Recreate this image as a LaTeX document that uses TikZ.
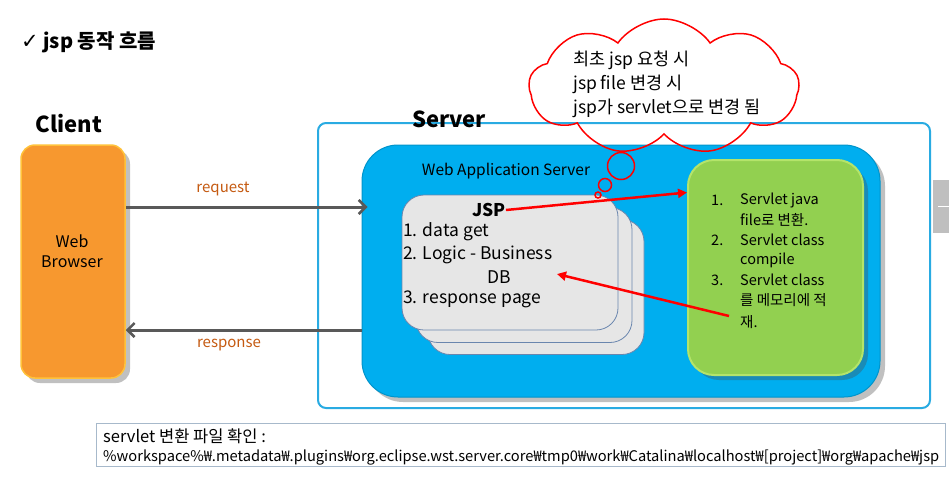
\documentclass[tikz,border=0pt]{standalone}
\usepackage{fontspec}
\setmainfont{Noto Sans CJK KR}
\newfontfamily\symfont{DejaVu Sans}
\usetikzlibrary{shapes.symbols,shadows,arrows.meta,calc}
\definecolor{orangebox}{HTML}{F7982F}
\definecolor{orangeedge}{HTML}{FFC23A}
\definecolor{wasblue}{HTML}{00AEEF}
\definecolor{srvline}{HTML}{29ABE2}
\definecolor{greenbox}{HTML}{92D050}
\definecolor{greenedge}{HTML}{B4E46A}
\definecolor{arrowgrey}{HTML}{595959}
\definecolor{labelbrown}{HTML}{C55A11}
\definecolor{jspfill}{HTML}{E6E6E6}
\definecolor{jspline}{HTML}{6A86AE}
\definecolor{tabgrey}{HTML}{BFBFBF}
\definecolor{pathbox}{HTML}{A7B9CB}
\tikzset{
  boxshadow/.style={drop shadow={shadow xshift=5pt,shadow yshift=-5pt,opacity=0.35,fill=black!70}},
  browserbox/.style={rectangle,rounded corners=14pt,fill=orangebox,draw=orangeedge,line width=1.5pt,boxshadow,minimum width=104pt,minimum height=233pt},
  wasbox/.style={rectangle,rounded corners=36pt,fill=wasblue,draw=wasblue!85!black,line width=1pt,boxshadow,minimum width=518pt,minimum height=252pt},
  greenboxst/.style={rectangle,rounded corners=26pt,fill=greenbox,draw=greenedge,line width=2pt,boxshadow,minimum width=175pt,minimum height=215pt},
  jspbox/.style={rectangle,rounded corners=22pt,fill=jspfill,draw=jspline,line width=0.8pt,minimum width=216pt,minimum height=135pt},
  flowarrow/.style={draw=arrowgrey,line width=3pt,-{Straight Barb[length=7pt,width=14pt,line width=2.5pt]}},
  redarrow/.style={draw=red,line width=2.5pt,-{Triangle[length=9pt,width=9pt]}},
  flowlabel/.style={text=labelbrown,font=\fontsize{15}{17}\selectfont},
  jsptext/.style={anchor=west,font=\fontsize{17.5}{20}\selectfont,inner sep=0pt},
  greentext/.style={anchor=west,font=\fontsize{14.5}{16}\selectfont,inner sep=0pt},
  bubble/.style={circle,draw=red,line width=1.5pt,inner sep=0pt},
}
\begin{document}
\begin{tikzpicture}[x=1pt,y=-1pt]
\useasboundingbox[fill=white] (0,0) rectangle (949,479);

% title
\node[anchor=west,inner sep=0pt,font=\bfseries\fontsize{20}{22}\selectfont] (title) at (21,42) {{\symfont\fontsize{21}{22}\selectfont ✓}\ jsp 동작 흐름};

% client
\node[font=\bfseries\fontsize{22}{26}\selectfont,inner sep=0pt] (clientlbl) at (69,124) {Client};
\node[browserbox] (browser) at (73,261.5) {};
\node[align=center,font=\fontsize{16}{19.5}\selectfont] (browsertxt) at (72,251) {Web\\Browser};

% server outer
\node[rectangle,draw=srvline,line width=2pt,rounded corners=8pt,minimum width=612pt,minimum height=285pt,fill=white] (server) at (624,265.5) {};
\node[font=\bfseries\fontsize{22}{26}\selectfont,inner sep=0pt] (serverlbl) at (449,119) {Server};

% WAS
\node[wasbox] (was) at (621,271) {};
\node[font=\fontsize{15.5}{18}\selectfont,inner sep=0pt] (waslbl) at (506,171) {Web Application Server};

% JSP stack
\node[jspbox] (jsp3) at (536,287) {};
\node[jspbox] (jsp2) at (524,275) {};
\node[jspbox] (jsp1) at (510,262.5) {};
\node[font=\bfseries\fontsize{17.5}{20}\selectfont,inner sep=0pt] (jsp) at (489,210) {JSP};
\node[jsptext] (l1) at (403,232) {1. data get};
\node[jsptext] (l2) at (403,255) {2. Logic - Business};
\node[font=\fontsize{17.5}{20}\selectfont,inner sep=0pt] (db) at (499,277) {DB};
\node[jsptext] (l3) at (403,299) {3. response page};

% green box
\node[greenboxst] (green) at (775.5,267.5) {};
\node[greentext] (n1) at (711,200) {1.};
\node[greentext] (g1) at (740,200) {Servlet java};
\node[greentext] (g2) at (740,220) {file로 변환.};
\node[greentext] (n2) at (711,240) {2.};
\node[greentext] (g3) at (740,240) {Servlet class};
\node[greentext] (g4) at (740,260) {compile};
\node[greentext] (n3) at (711,280) {3.};
\node[greentext] (g5) at (740,280) {Servlet class};
\node[greentext] (g6) at (740,300) {를 메모리에 적};
\node[greentext] (g7) at (740,322) {재.};

% cloud
\node[cloud,cloud puffs=9,cloud puff arc=110,aspect=2,draw=red,line width=1.5pt,minimum width=270pt,minimum height=136pt] (cloud) at (664,87) {};
\node[align=left,font=\fontsize{17.5}{24}\selectfont,inner sep=0pt] (cloudtxt) at (667,84) {최초 jsp 요청 시\\jsp file 변경 시\\jsp가 servlet으로 변경 됨};
\node[bubble,minimum size=27pt] (b1) at (621,166) {};
\node[bubble,minimum size=13pt] (b2) at (605,185) {};
\node[bubble,minimum size=6pt] (b3) at (598,195) {};

% red arrows
\coordinate (dbt) at (557,274);
\coordinate (c3) at (729,316);
\draw[redarrow] (jsp.east) -- ($(green.west)+(0,-75)$);
\draw[redarrow] (c3) -- (dbt);

% request / response
\coordinate (req) at (0,207);
\coordinate (resp) at (0,330);
\draw[flowarrow] (browser.east |- req) -- ($(was.west |- req)+(6,0)$);
\draw[flowarrow] (was.west |- resp) -- (browser.east |- resp);
\node[flowlabel] (reqlbl) at (223,189) {request};
\node[flowlabel] (resplbl) at (229,345) {response};

% grey tab
\node[rectangle,fill=tabgrey,minimum width=16pt,minimum height=53pt,inner sep=0pt] (tab) at (941,206.5) {};
\draw[white,line width=1.5pt] ($(tab.center)+(-3,0)$) -- (tab.east);

% bottom path box
\node[rectangle,draw=pathbox,line width=1pt,fill=white,minimum width=849pt,minimum height=43pt] (pathbox) at (520.5,444.5) {};
\node[anchor=west,inner sep=0pt,font=\fontsize{16.5}{18}\selectfont] (pathtitle) at (103,436) {servlet 변환 파일 확인 :};
\node[anchor=west,inner sep=0pt] (pathtxt) at (103,457) {\resizebox{836pt}{!}{\fontsize{13}{15}\selectfont \%workspace\%₩.metadata₩.plugins₩org.eclipse.wst.server.core₩tmp0₩work₩Catalina₩localhost₩[project]₩org₩apache₩jsp}};
\end{tikzpicture}
\end{document}
